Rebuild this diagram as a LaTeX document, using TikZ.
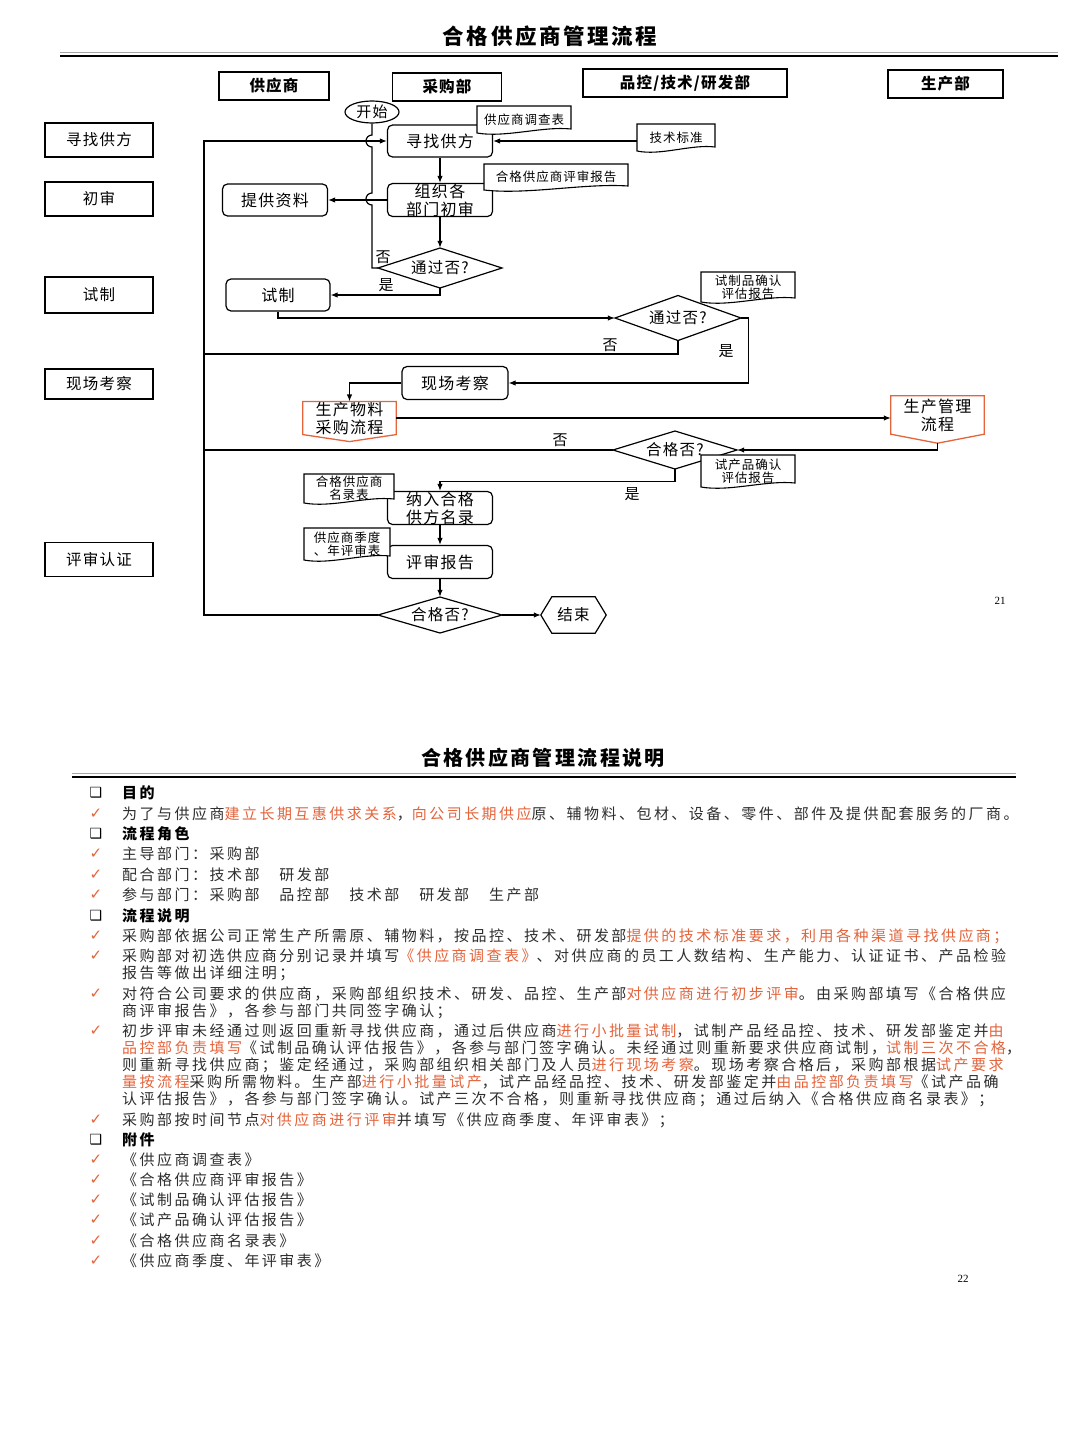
\documentclass[tikz,border=0pt]{standalone}
\usepackage{fontspec}
\setmainfont{Noto Sans CJK SC}
\newfontfamily\ffont[LetterSpace=8]{Noto Sans CJK SC}
\newfontfamily\bfont[LetterSpace=16.5]{Noto Sans CJK SC}
\newfontfamily\tfont[LetterSpace=12]{Noto Sans CJK SC}
\newfontfamily\symfont{DejaVu Sans}
\newfontfamily\numfont{Liberation Serif}
\usetikzlibrary{arrows.meta,shapes.geometric,calc}
\definecolor{hl}{HTML}{E4643C}
\definecolor{ink}{HTML}{2E2E2E}
\newcommand\fs[2]{\fontsize{#1pt}{#2pt}\selectfont}
\newcommand\hlt[1]{\textcolor{hl}{#1}}
\newcounter{tln}
\tikzset{
  fbox/.style={draw, rounded corners=5pt, line width=1.2pt, minimum width=105pt, minimum height=32pt, inner sep=0pt, align=center, font=\ffont\fs{16}{18}},
  hdr/.style={draw, line width=1.3pt, minimum height=28pt, inner sep=0pt, font=\ffont\bfseries\fs{15.5}{18}},
  stg/.style={draw, line width=1.7pt, minimum width=108pt, minimum height=34pt, inner sep=0pt, font=\ffont\fs{15.5}{18}},
  dtxt/.style={inner sep=0pt, font=\ffont\fs{15.5}{18}},
  dline/.style={line width=1.2pt},
  orng/.style={inner sep=0pt, align=center, font=\ffont\fs{16}{18}},
  orngline/.style={draw=hl, line width=1.3pt},
  docl/.style={line width=1.1pt, fill=white},
  doct/.style={inner sep=0pt, align=center, font=\ffont\fs{12.5}{13}},
  conn/.style={line width=1.2pt},
  arr/.style={conn, -{Latex[length=7pt,width=5.5pt]}},
  lab/.style={font=\ffont\fs{15}{17}, inner sep=0pt},
  txt/.style={font=\bfont\fs{15}{17}, text=ink, inner sep=0pt, anchor=west},
  ck/.style={font=\symfont\fs{15}{16}, text=hl, inner sep=0pt},
  sq/.style={font=\symfont\fs{14}{16}, text=black, inner sep=0pt},
}
% name, x, y (px, down), w, h, text
\newcommand\docnode[6]{%
  \pgfmathsetmacro\dxl{#2-#4/2}\pgfmathsetmacro\dxr{#2+#4/2}%
  \pgfmathsetmacro\dyt{-#3+#5/2}\pgfmathsetmacro\dyb{-#3-#5/2}%
  \draw[docl] (\dxl,\dyt) -- (\dxr,\dyt) -- (\dxr,{\dyb+4})
     .. controls ({\dxr-0.3*#4},{\dyb+7}) and ({\dxl+0.3*#4},{\dyb-5}) .. (\dxl,\dyb) -- cycle;
  \node[doct, minimum width=#4pt, minimum height=#5pt] (#1) at (#2,-#3) {#6};}
% diamond outline: x, y (down), w, h
\newcommand\diamout[4]{%
  \draw[dline] ({#1-#3/2},-#2) -- (#1,{-#2+#4/2}) -- ({#1+#3/2},-#2) -- (#1,{-#2-#4/2}) -- cycle;}
\newcommand\tline[2]{\stepcounter{tln}\node[txt] (t\thetln) at (122,-#1) {#2};}
\newcommand\ckline[2]{\stepcounter{tln}\node[ck] (c\thetln) at (96,-#1) {✓};\node[txt] (t\thetln) at (122,-#1) {#2};}
\newcommand\sqline[2]{\stepcounter{tln}\node[sq] (s\thetln) at (96,-#1) {❑};\node[txt, font=\bfont\bfseries\fs{15}{17}, text=black] (t\thetln) at (122,-#1) {#2};}
\begin{document}
\begin{tikzpicture}[x=1pt,y=1pt]
\fill[white] (0,0) rectangle (1080,-1440);
\useasboundingbox (0,0) rectangle (1080,-1440);

% ---------- page 1 ----------
\node[font=\tfont\bfseries\fs{21.5}{24}] (title1) at (550,-36) {合格供应商管理流程};
\draw[gray!70, line width=1.3pt] (60,-52.5) -- (1058,-52.5);
\draw[line width=2.4pt] (60,-56) -- (1058,-56);

\node[hdr, minimum width=110pt] (hS) at (274,-86) {供应商};
\node[hdr, minimum width=109pt] (hP) at (447,-87) {采购部};
\node[hdr, minimum width=204pt] (hQ) at (685,-83) {品控/技术/研发部};
\node[hdr, minimum width=115pt] (hM) at (945.5,-84) {生产部};

\node[stg] (s1) at (99,-140) {寻找供方};
\node[stg] (s2) at (99,-199) {初审};
\node[stg, minimum height=36pt] (s3) at (99,-295) {试制};
\node[stg, minimum height=30pt] (s4) at (99,-384) {现场考察};
\node[stg] (s5) at (99,-559.5) {评审认证};

% flow nodes
\node[ellipse, draw, line width=1.2pt, minimum width=54pt, minimum height=22pt, inner sep=0pt, font=\ffont\fs{15}{17}] (start) at (372,-112) {开始};
\node[fbox] (find) at (440,-141) {寻找供方};
\node[fbox, minimum height=33pt] (org) at (440,-200) {组织各\\部门初审};
\node[fbox] (provide) at (275,-200) {提供资料};
\node[fbox, minimum width=104pt] (trial) at (278,-295) {试制};
\node[fbox, minimum width=106pt, minimum height=33pt] (site) at (455,-383) {现场考察};

\node[orng, minimum width=93pt, minimum height=32pt] (purch) at (349.5,-418) {生产物料\\采购流程};
\draw[orngline] (purch.north west) -- (purch.north east) -- (purch.south east) -- ([yshift=-7pt]purch.south) -- (purch.south west) -- cycle;
\node[orng, minimum width=93pt, minimum height=38pt] (prod) at (937.5,-415) {生产管理\\流程};
\draw[orngline] (prod.north west) -- (prod.north east) -- (prod.south east) -- ([yshift=-9pt]prod.south) -- (prod.south west) -- cycle;

\node[fbox, minimum height=33pt] (include) at (440,-508) {纳入合格\\供方名录};
\node[fbox, minimum height=33pt] (review) at (440,-562) {评审报告};
\node[minimum width=65pt, minimum height=36pt, inner sep=0pt, font=\ffont\fs{15.5}{18}] (end) at (573.5,-615) {结束};
\draw[line width=1.2pt] (end.west) -- ([xshift=11pt]end.north west) -- ([xshift=-11pt]end.north east) -- (end.east) -- ([xshift=-11pt]end.south east) -- ([xshift=11pt]end.south west) -- cycle;

% decision outlines
\diamout{440}{268}{124}{40}
\diamout{678}{318}{126}{45}
\diamout{675}{450}{124}{38}
\diamout{440}{615}{124}{36}

% documents
\docnode{survey}{524}{119.5}{94}{27}{供应商调查表}
\docnode{techstd}{676}{137.5}{78}{27}{技术标准}
\docnode{qrep}{556}{177}{144}{26}{合格供应商评审报告}
\docnode{trialrep}{748}{287}{94}{30}{试制品确认\\评估报告}
\docnode{prodrep}{748}{471}{94}{32}{试产品确认\\评估报告}
\docnode{qlist}{349}{488.5}{90}{29}{合格供应商\\名录表}
\docnode{seasonal}{347}{544}{86}{32}{供应商季度\\、年评审表}

% decision nodes (text)
\node[dtxt, minimum width=124pt, minimum height=40pt] (d1) at (440,-268) {通过否?};
\node[dtxt, minimum width=126pt, minimum height=45pt] (d2) at (678,-318) {通过否?};
\node[dtxt, minimum width=124pt, minimum height=38pt] (d3) at (675,-450) {合格否?};
\node[dtxt, minimum width=124pt, minimum height=36pt] (d4) at (440,-615) {合格否?};

% connectors
\coordinate (railTop) at (204,-141);
\coordinate (railBot) at (204,-615);
\draw[arr] (d4.west) -- (railBot) -- (railTop) -- (find.west);
\draw[conn] (start.south) -- (372,-135) arc[start angle=90, end angle=270, radius=6]
   -- (372,-193) arc[start angle=90, end angle=270, radius=6] -- (372,-268) -- (d1.west);
\draw[arr] (techstd.west |- find.east) -- (find.east);
\draw[arr] (find) -- (org);
\draw[arr] (org.west) -- (provide.east);
\draw[arr] (org.south) -- (d1.north);
\draw[arr] (d1.south) |- (trial.east);
\draw[arr] (trial.south) |- (d2.west);
\coordinate (d2no) at (204,-354);
\draw[conn] (d2.south) |- (d2no);
\draw[arr] (d2.east) -- ++(7,0) |- (site.east);
\draw[arr] (site.west) -| (purch.north);
\draw[arr] (purch.east) -- (purch.east -| prod.west);
\draw[arr] ([yshift=-9pt]prod.south) |- (d3.east);
\coordinate (d3no) at (204,-450);
\draw[conn] (d3.west) -- (d3no);
\draw[arr] (d3.south) -- ++(0,-12) -| (include.north);
\draw[arr] (include) -- (review);
\draw[arr] (review) -- (d4);
\draw[arr] (d4.east) -- (end.west);

% labels
\node[lab] (l1) at (383,-257) {否};
\node[lab] (l2) at (386,-285) {是};
\node[lab] (l3) at (610,-345) {否};
\node[lab] (l4) at (726,-351) {是};
\node[lab] (l5) at (560,-440) {否};
\node[lab] (l6) at (632,-494) {是};
\node[font=\numfont\fs{11}{13}] (p21) at (1000,-601) {21};

% ---------- page 2 ----------
\node[font=\tfont\bfseries\fs{20}{22}] (title2) at (543,-758) {合格供应商管理流程说明};
\draw[gray!70, line width=1.3pt] (72,-773.5) -- (1016,-773.5);
\draw[line width=2.4pt] (72,-777) -- (1016,-777);

\sqline{793}{目的}
\ckline{814}{为了与供应商\hlt{建立长期互惠供求关系}，\hlt{向公司长期供应}原、辅物料、包材、设备、零件、部件及提供配套服务的厂商。}
\sqline{834}{流程角色}
\ckline{854}{主导部门：采购部}
\ckline{875}{配合部门：技术部　研发部}
\ckline{895}{参与部门：采购部　品控部　技术部　研发部　生产部}
\sqline{916}{流程说明}
\ckline{936}{采购部依据公司正常生产所需原、辅物料，按品控、技术、研发部\hlt{提供的技术标准要求，利用各种渠道寻找供应商；}}
\ckline{956}{采购部对初选供应商分别记录并填写\hlt{《供应商调查表》}、对供应商的员工人数结构、生产能力、认证证书、产品检验}
\tline{973}{报告等做出详细注明；}
\ckline{994}{对符合公司要求的供应商，采购部组织技术、研发、品控、生产部\hlt{对供应商进行初步评审}。由采购部填写《合格供应}
\tline{1011}{商评审报告》，各参与部门共同签字确认；}
\ckline{1031}{初步评审未经通过则返回重新寻找供应商，通过后供应商\hlt{进行小批量试制}，试制产品经品控、技术、研发部鉴定并\hlt{由}}
\tline{1048}{\hlt{品控部负责填写}《试制品确认评估报告》，各参与部门签字确认。未经通过则重新要求供应商试制，\hlt{试制三次不合格}，}
\tline{1065}{则重新寻找供应商；鉴定经通过，采购部组织相关部门及人员\hlt{进行现场考察}。现场考察合格后，采购部根据\hlt{试产要求}}
\tline{1082}{\hlt{量按流程}采购所需物料。生产部\hlt{进行小批量试产}，试产品经品控、技术、研发部鉴定并\hlt{由品控部负责填写}《试产品确}
\tline{1099}{认评估报告》，各参与部门签字确认。试产三次不合格，则重新寻找供应商；通过后纳入《合格供应商名录表》；}
\ckline{1120}{采购部按时间节点\hlt{对供应商进行评审}并填写《供应商季度、年评审表》；}
\sqline{1140}{附件}
\ckline{1160}{《供应商调查表》}
\ckline{1180}{《合格供应商评审报告》}
\ckline{1200}{《试制品确认评估报告》}
\ckline{1220}{《试产品确认评估报告》}
\ckline{1241}{《合格供应商名录表》}
\ckline{1261}{《供应商季度、年评审表》}
\node[font=\numfont\fs{11}{13}] (p22) at (963,-1279) {22};
\end{tikzpicture}
\end{document}
